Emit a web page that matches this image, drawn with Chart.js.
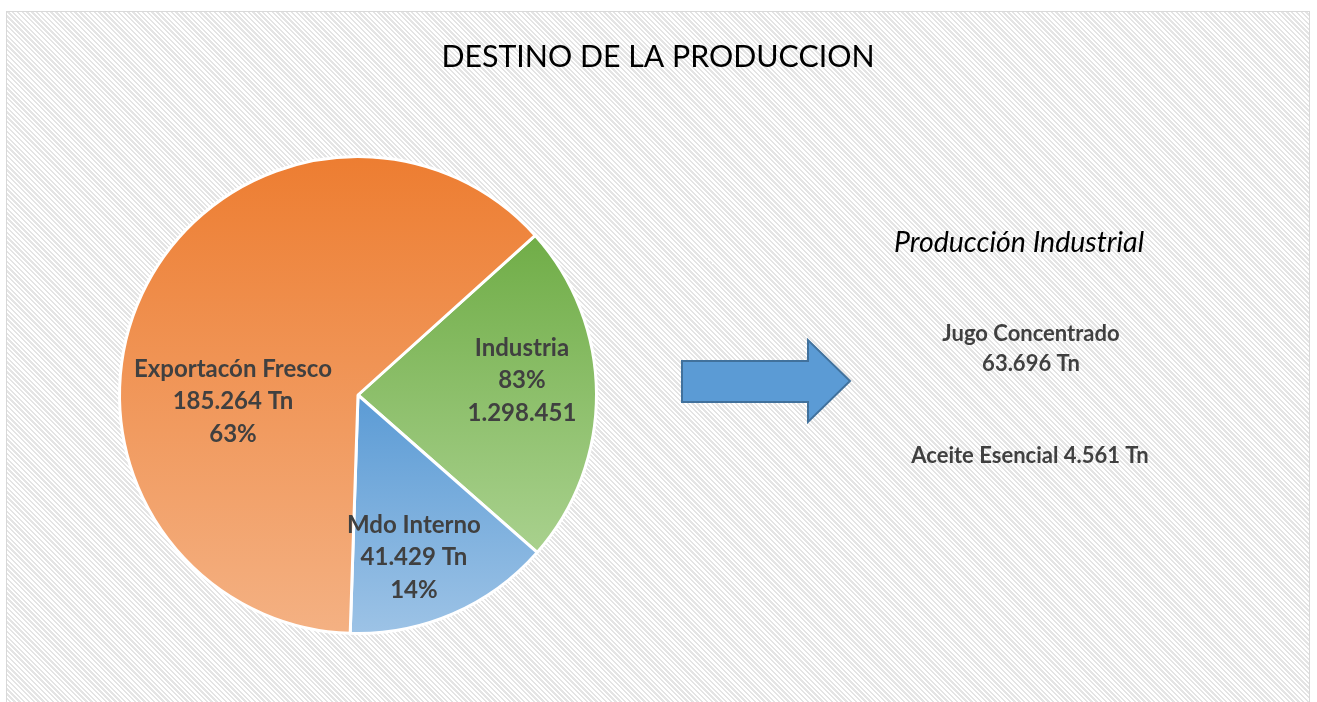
<!DOCTYPE html>
<html>
<head>
<meta charset="utf-8">
<script src="https://cdn.jsdelivr.net/npm/chart.js@4.4.0/dist/chart.umd.min.js"></script>
<style>
  html, body { margin: 0; padding: 0; background: #fff; }
  #frame {
    position: absolute; left: 6px; top: 11px; width: 1302px; height: 700px;
    border: 1px solid #d9d9d9;
    background: repeating-linear-gradient(45deg, #fff 0, #fff 1.7px, #e4e4e4 1.7px, #e4e4e4 3.4px);
  }
  #wrap { position: absolute; left: 0; top: 0; width: 1317px; height: 702px; }
  #arrow { position: absolute; left: 0; top: 0; }
</style>
</head>
<body>
<div id="frame"></div>
<svg id="arrow" width="1317" height="702">
  <polygon points="682,361 808,361 808,340 850,381 808,422 808,402 682,402"
           fill="#5B9BD5" stroke="#41719C" stroke-width="2"/>
</svg>
<div id="wrap"><canvas id="pie"></canvas></div>
<script>
// data
const categories = ['Industria', 'Mdo Interno', 'Exportacón Fresco'];
const values = [68257, 41429, 185264];
const tnLabels = ['1.298.451', '41.429 Tn', '185.264 Tn'];
const pctLabels = ['83%', '14%', '63%'];
const industrialItems = ['Jugo Concentrado', 'Aceite Esencial'];
const industrialTn = ['63.696 Tn', '4.561 Tn'];

const topColors = ['#70AD47', '#5B9BD5', '#ED7D31'];
const bottomColors = ['#A9D18E', '#9DC3E6', '#F4B183'];
const rotationDeg = 48;

// label placement inside each slice: [angle from 3 o'clock (deg), fraction of radius]
const labelSpots = [[-5, 0.69], [71, 0.72], [177, 0.525]];

function sliceGradient(c) {
  const i = c.dataIndex;
  const chart = c.chart, area = chart.chartArea;
  if (!area) return topColors[i];
  const cx = (area.left + area.right) / 2, cy = (area.top + area.bottom) / 2;
  const r = Math.min(area.right - area.left, area.bottom - area.top) / 2;
  const total = values.reduce((a, b) => a + b, 0);
  let a0 = (rotationDeg - 90) * Math.PI / 180;
  for (let k = 0; k < i; k++) a0 += values[k] / total * 2 * Math.PI;
  const a1 = a0 + values[i] / total * 2 * Math.PI;
  let ys = [cy, cy + r * Math.sin(a0), cy + r * Math.sin(a1)];
  for (let t = Math.ceil(a0 / (Math.PI / 2)) * Math.PI / 2; t <= a1; t += Math.PI / 2) {
    ys.push(cy + r * Math.sin(t));
  }
  const g = chart.ctx.createLinearGradient(0, Math.min(...ys), 0, Math.max(...ys));
  g.addColorStop(0, topColors[i]);
  g.addColorStop(1, bottomColors[i]);
  return g;
}

const textPlugin = {
  id: 'texts',
  afterDraw(chart) {
    const ctx = chart.ctx;
    ctx.save();
    ctx.textAlign = 'center';
    ctx.textBaseline = 'middle';

    // slice labels
    const meta = chart.getDatasetMeta(0);
    ctx.fillStyle = '#404040';
    ctx.font = 'bold 24px Lato';
    meta.data.forEach((arc, i) => {
      const a = labelSpots[i][0] * Math.PI / 180;
      const rr = arc.outerRadius * labelSpots[i][1];
      const x = arc.x + Math.cos(a) * rr, y = arc.y + Math.sin(a) * rr;
      const lines = [categories[i], i === 0 ? pctLabels[i] : tnLabels[i], i === 0 ? tnLabels[i] : pctLabels[i]];
      lines.forEach((t, j) => ctx.fillText(t, x, y + (j - 1) * 32.5));
    });

    // title
    ctx.fillStyle = '#000';
    ctx.font = '30.3px Lato';
    ctx.fillText('DESTINO DE LA PRODUCCION', 658, 57);

    // side notes
    ctx.font = 'italic 28.5px Lato';
    ctx.fillText('Producción Industrial', 1019, 243);
    ctx.fillStyle = '#404040';
    ctx.font = 'bold 22px Lato';
    ctx.fillText(industrialItems[0], 1031, 334);
    ctx.fillText(industrialTn[0], 1031, 364);
    ctx.fillText(industrialItems[1] + ' ' + industrialTn[1], 1030, 456);
    ctx.restore();
  }
};

new Chart(document.getElementById('pie'), {
  type: 'pie',
  data: {
    labels: categories,
    datasets: [{
      data: values,
      backgroundColor: sliceGradient,
      borderColor: '#fff',
      borderWidth: 3
    }]
  },
  options: {
    responsive: true,
    maintainAspectRatio: false,
    animation: false,
    rotation: rotationDeg,
    layout: { padding: { left: 117, right: 718, top: 155, bottom: 67 } },
    plugins: {
      legend: { display: false },
      tooltip: { enabled: false }
    }
  },
  plugins: [textPlugin]
});
</script>
</body>
</html>
